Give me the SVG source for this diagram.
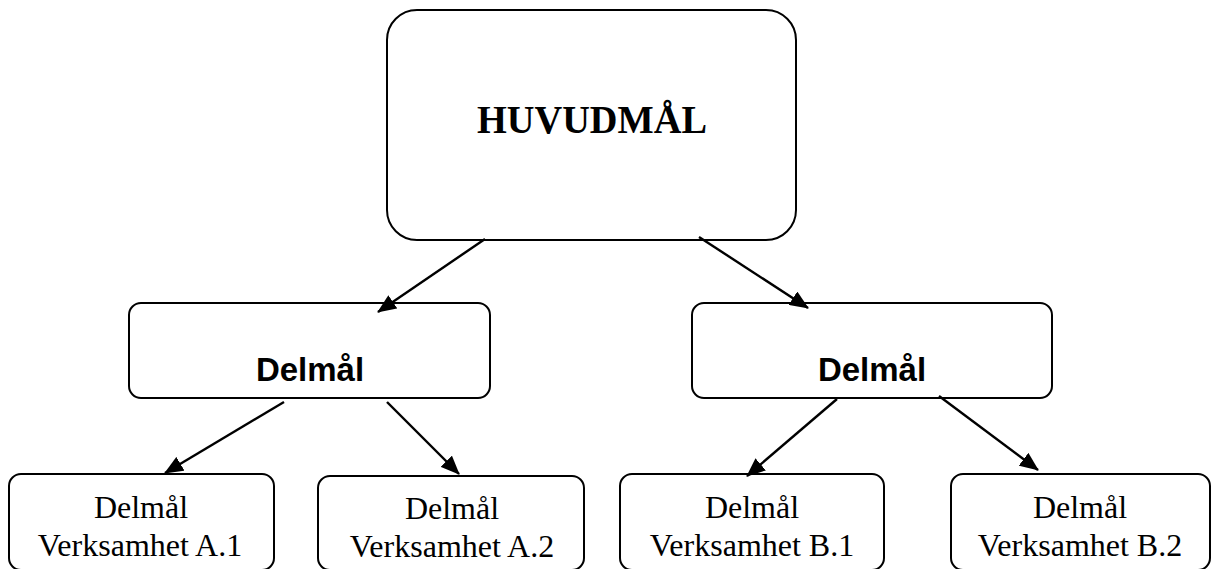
<svg xmlns="http://www.w3.org/2000/svg" width="1214" height="569" viewBox="0 0 1214 569">
<style>
.box{fill:#fff;stroke:#000;stroke-width:2}
.conn{stroke:#000;stroke-width:2.4;fill:none;marker-end:url(#ah)}
.main{font-family:"Liberation Serif","Times New Roman",serif;font-weight:bold;font-size:41px;text-anchor:middle}
.mid{font-family:"Liberation Sans",Arial,sans-serif;font-weight:bold;font-size:33px;text-anchor:middle}
.leaf{font-family:"Liberation Serif","Times New Roman",serif;font-size:32px;text-anchor:middle}
</style>
<defs>
<marker id="ah" markerUnits="userSpaceOnUse" markerWidth="20" markerHeight="16" refX="18" refY="8" orient="auto">
<path d="M0,0 L19,8 L0,16 z" fill="#000"/>
</marker>
</defs>
<rect width="1214" height="569" fill="#fff"/>
<g id="huvudmal">
<rect class="box" x="387" y="10" width="409" height="230" rx="30"/>
<text class="main" x="592" y="133" textLength="230" lengthAdjust="spacingAndGlyphs">HUVUDMÅL</text>
</g>
<g id="delmal-a">
<rect class="box" x="129" y="303" width="361" height="95" rx="12"/>
<text class="mid" x="310" y="381">Delmål</text>
</g>
<g id="delmal-b">
<rect class="box" x="692" y="303" width="360" height="95" rx="12"/>
<text class="mid" x="872" y="381">Delmål</text>
</g>
<g id="a1">
<rect class="box" x="9" y="474" width="265" height="96" rx="12"/>
<text class="leaf" x="141" y="518">Delmål</text>
<text class="leaf" x="140" y="556">Verksamhet A.1</text>
</g>
<g id="a2">
<rect class="box" x="318" y="476" width="266" height="94" rx="12"/>
<text class="leaf" x="452" y="519">Delmål</text>
<text class="leaf" x="452" y="557">Verksamhet A.2</text>
</g>
<g id="b1">
<rect class="box" x="620" y="474" width="264" height="96" rx="12"/>
<text class="leaf" x="752" y="518">Delmål</text>
<text class="leaf" x="752" y="556">Verksamhet B.1</text>
</g>
<g id="b2">
<rect class="box" x="951" y="474" width="259" height="96" rx="12"/>
<text class="leaf" x="1080" y="518">Delmål</text>
<text class="leaf" x="1080" y="556">Verksamhet B.2</text>
</g>
<g id="connectors">
<line class="conn" x1="485" y1="239" x2="378" y2="312"/>
<line class="conn" x1="699" y1="237" x2="808" y2="308"/>
<line class="conn" x1="284" y1="402" x2="165" y2="473"/>
<line class="conn" x1="387" y1="402" x2="459" y2="474"/>
<line class="conn" x1="837" y1="399" x2="747" y2="476"/>
<line class="conn" x1="939" y1="396" x2="1038" y2="470"/>
</g>
</svg>
